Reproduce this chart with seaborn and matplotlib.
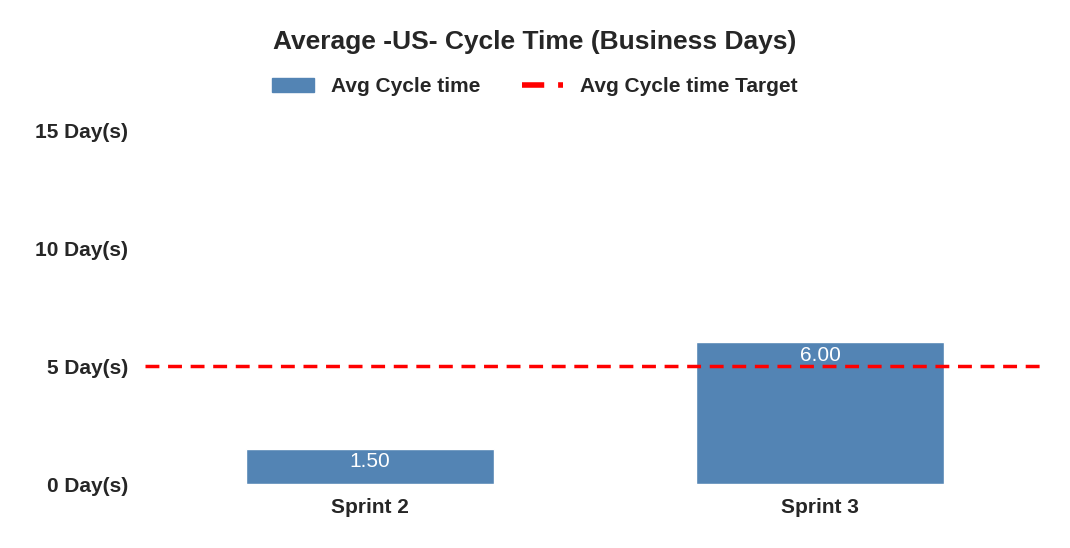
import matplotlib
matplotlib.use("Agg")
import matplotlib.pyplot as plt
import seaborn as sns
import pandas as pd
from matplotlib.lines import Line2D
from matplotlib.patches import Patch

categories = ["Sprint 2", "Sprint 3"]
avg_cycle = [1.50, 6.00]
target = 5
yticks = [0, 5, 10, 15]
ytick_labels = ["0 Day(s)", "5 Day(s)", "10 Day(s)", "15 Day(s)"]

sns.set_style("white")
plt.rcParams['font.family'] = ['Liberation Sans', 'DejaVu Sans']

fig = plt.figure(figsize=(10.7, 5.48), dpi=100)
ax = fig.add_axes([145/1070, 64/548, 900/1070, 354/548])
df = pd.DataFrame({"cat": categories, "val": avg_cycle})
sns.barplot(data=df, x="cat", y="val", color="#5384b4", saturation=1, width=0.55, ax=ax)
for p, v in zip(ax.patches, avg_cycle):
    ax.text(p.get_x() + p.get_width()/2, v - 0.15, f"{v:.2f}", ha="center", va="top",
            color="white", fontsize=15)
ax.axhline(target, color="red", linestyle=(0, (4, 2.5)), linewidth=2.5)
ax.set_xlim(-0.5, 1.5)
ax.set_ylim(0, 15)
ax.set_yticks(yticks)
ax.set_yticklabels(ytick_labels, fontsize=15, fontweight="bold")
ax.tick_params(axis="x", labelsize=15, length=0, pad=10)
ax.tick_params(axis="y", length=0, pad=12)
for t in ax.get_xticklabels():
    t.set_fontweight("bold")
ax.set_xlabel("")
ax.set_ylabel("")
for s in ax.spines.values():
    s.set_visible(False)
fig.text(535/1070, 1 - 42/548, "Average -US- Cycle Time (Business Days)", ha="center", va="center",
         fontsize=19, fontweight="bold")
handles = [Patch(color="#5384b4"), Line2D([], [], color="red", linestyle=(0, (4, 2.5)), linewidth=4)]
fig.legend(handles, ["Avg Cycle time", "Avg Cycle time Target"], loc="center",
           bbox_to_anchor=(535/1070, 1 - 87/548), ncol=2, frameon=False,
           prop={"size": 15, "weight": "bold"}, handlelength=2, columnspacing=2)
fig.savefig("out.png", dpi=100)
